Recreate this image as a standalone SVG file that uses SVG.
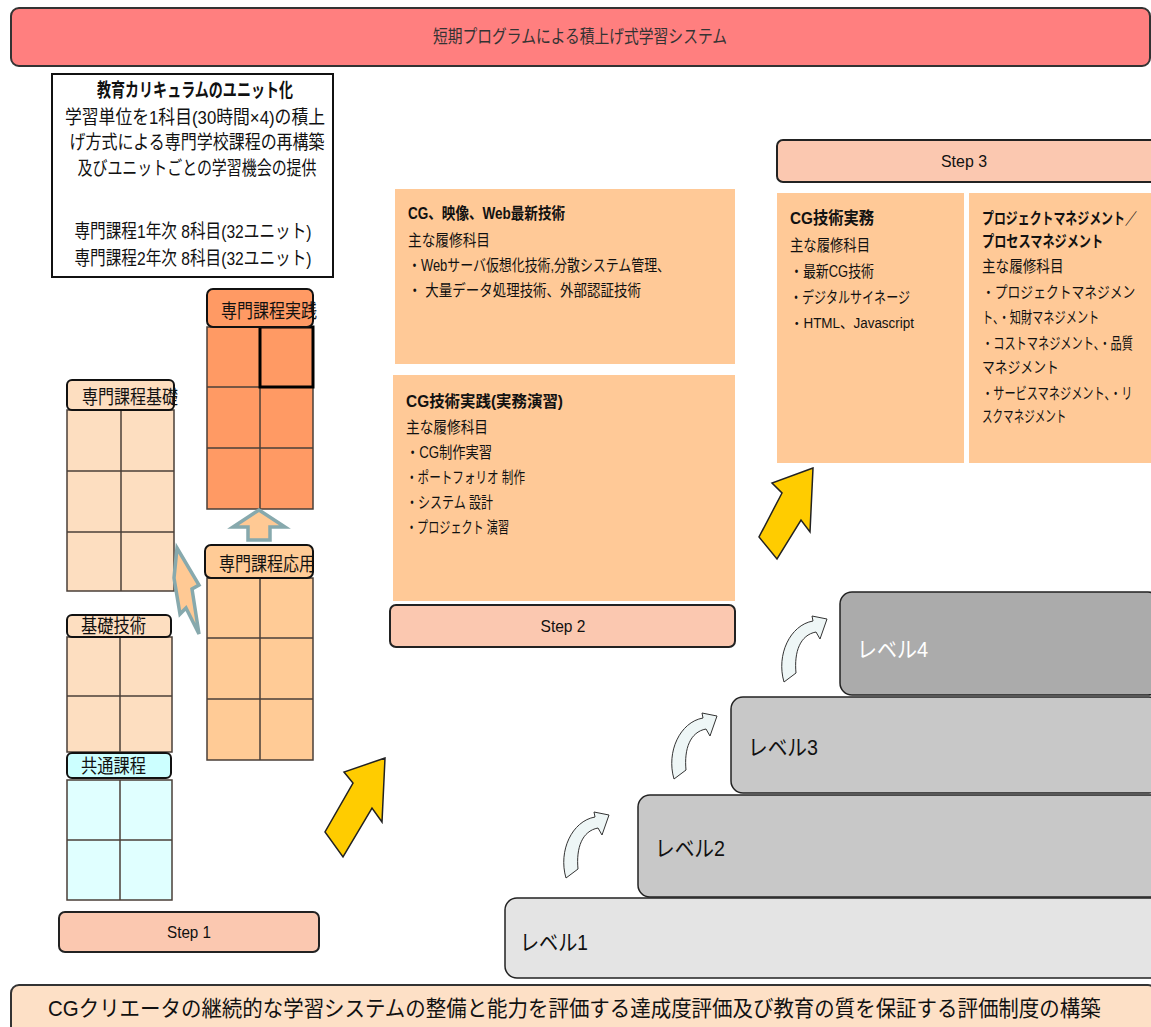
<svg xmlns="http://www.w3.org/2000/svg" width="1151" height="1027" viewBox="0 0 1151 1027">
<style>
text{font-family:"Liberation Sans","Noto Sans CJK JP",sans-serif;fill:#111;dominant-baseline:central}
.b{font-weight:bold}
.hdr{stroke:#111;stroke-width:2}
.grid{stroke:#4a3f38;stroke-width:1.5}
.step{fill:#FBC8B0;stroke:#222;stroke-width:2}
.box{fill:#FFC997}
.lvl{stroke:#222;stroke-width:1.5}
.yarr{fill:#FFCC00;stroke:#222;stroke-width:1.5}
.carr{fill:#EEF6F6;stroke:#333;stroke-width:1}
.barr{fill:#FFC994;stroke:#87A9AD;stroke-width:3.5;stroke-linejoin:miter}
</style>
<defs>
<path id="curv" d="M2,65 C-6,38 8,8 31,4 L30,-1 L45,2 L38,22 L34,15 C18,18 12,35 14,56 Z"/>
</defs>

<g id="title">
<rect x="11" y="8" width="1139" height="58" rx="8" fill="#FF7F7F" stroke="#333" stroke-width="2"/>
<text x="580" y="37" font-size="18" text-anchor="middle" textLength="294" lengthAdjust="spacingAndGlyphs" style="fill:#333">短期プログラムによる積上げ式学習システム</text>
</g>

<g id="unit-box">
<rect x="52" y="74" width="281" height="203" fill="#fff" stroke="#111" stroke-width="2"/>
<text x="195" y="90" font-size="19" class="b" text-anchor="middle" textLength="196" lengthAdjust="spacingAndGlyphs">教育カリキュラムのユニット化</text>
<text x="195" y="117" font-size="19" text-anchor="middle" textLength="260" lengthAdjust="spacingAndGlyphs">学習単位を1科目(30時間×4)の積上</text>
<text x="197" y="142" font-size="19" text-anchor="middle" textLength="255" lengthAdjust="spacingAndGlyphs">げ方式による専門学校課程の再構築</text>
<text x="197" y="168" font-size="19" text-anchor="middle" textLength="239" lengthAdjust="spacingAndGlyphs">及びユニットごとの学習機会の提供</text>
<text x="193" y="231" font-size="19" text-anchor="middle" textLength="237" lengthAdjust="spacingAndGlyphs">専門課程1年次  8科目(32ユニット)</text>
<text x="193" y="258" font-size="19" text-anchor="middle" textLength="237" lengthAdjust="spacingAndGlyphs">専門課程2年次  8科目(32ユニット)</text>
</g>

<g id="jissen">
<rect x="207" y="327" width="106" height="182" fill="#FF9A64" class="grid"/>
<line x1="260" y1="327" x2="260" y2="509" class="grid"/>
<line x1="207" y1="387" x2="313" y2="387" class="grid"/>
<line x1="207" y1="448" x2="313" y2="448" class="grid"/>
<rect x="260" y="327" width="53" height="60" fill="none" stroke="#000" stroke-width="3"/>
<rect x="207" y="289" width="106" height="38" rx="6" fill="#FF9A64" class="hdr"/>
<text x="221" y="311" font-size="19" textLength="96" lengthAdjust="spacingAndGlyphs">専門課程実践</text>
</g>

<g id="kiso">
<rect x="67" y="410" width="107" height="181" fill="#FDDEC0" class="grid"/>
<line x1="121" y1="410" x2="121" y2="591" class="grid"/>
<line x1="67" y1="471" x2="174" y2="471" class="grid"/>
<line x1="67" y1="532" x2="174" y2="532" class="grid"/>
<rect x="67" y="380" width="107" height="30" rx="5" fill="#FDDEC0" class="hdr"/>
<text x="82" y="397" font-size="19" textLength="96" lengthAdjust="spacingAndGlyphs">専門課程基礎</text>
</g>

<g id="ouyou">
<rect x="207" y="578" width="106" height="182" fill="#FFCB96" class="grid"/>
<line x1="260" y1="578" x2="260" y2="760" class="grid"/>
<line x1="207" y1="638" x2="313" y2="638" class="grid"/>
<line x1="207" y1="699" x2="313" y2="699" class="grid"/>
<rect x="205" y="545" width="108" height="33" rx="6" fill="#FFCB96" class="hdr"/>
<text x="219" y="564" font-size="19" textLength="96" lengthAdjust="spacingAndGlyphs">専門課程応用</text>
</g>

<g id="kisogijutsu">
<rect x="67" y="637" width="105" height="115" fill="#FDDEC0" class="grid"/>
<line x1="120" y1="637" x2="120" y2="752" class="grid"/>
<line x1="67" y1="696" x2="172" y2="696" class="grid"/>
<rect x="67" y="615" width="104" height="22" rx="5" fill="#FDDEC0" class="hdr"/>
<text x="81" y="626" font-size="19" textLength="65" lengthAdjust="spacingAndGlyphs">基礎技術</text>
</g>

<g id="kyoutsu">
<rect x="67" y="780" width="105" height="120" fill="#E0FFFF" class="grid"/>
<line x1="120" y1="780" x2="120" y2="900" class="grid"/>
<line x1="67" y1="840" x2="172" y2="840" class="grid"/>
<rect x="67" y="753" width="104" height="25" rx="5" fill="#CCFFFF" class="hdr"/>
<text x="81" y="766" font-size="19" textLength="65" lengthAdjust="spacingAndGlyphs">共通課程</text>
</g>

<g id="step1">
<rect x="59" y="912" width="260" height="40" rx="6" class="step"/>
<text x="189" y="932" font-size="17" text-anchor="middle" textLength="44" lengthAdjust="spacingAndGlyphs">Step 1</text>
</g>

<g id="box-web">
<rect x="395" y="189" width="340" height="175" class="box"/>
<text x="408" y="213" font-size="16" class="b" textLength="157" lengthAdjust="spacingAndGlyphs">CG、映像、Web最新技術</text>
<text x="408" y="240" font-size="16" textLength="82" lengthAdjust="spacingAndGlyphs">主な履修科目</text>
<text x="408" y="265" font-size="16" textLength="262" lengthAdjust="spacingAndGlyphs">・Webサーバ仮想化技術,分散システム管理、</text>
<text x="408" y="290" font-size="16" textLength="233" lengthAdjust="spacingAndGlyphs">・ 大量データ処理技術、外部認証技術</text>
</g>

<g id="box-cgjissen">
<rect x="393" y="375" width="342" height="226" class="box"/>
<text x="406" y="401" font-size="16" class="b" textLength="157" lengthAdjust="spacingAndGlyphs">CG技術実践(実務演習)</text>
<text x="406" y="427" font-size="16" textLength="82" lengthAdjust="spacingAndGlyphs">主な履修科目</text>
<text x="406" y="452" font-size="16" textLength="86" lengthAdjust="spacingAndGlyphs">・CG制作実習</text>
<text x="406" y="477" font-size="16" textLength="119" lengthAdjust="spacingAndGlyphs">・ポートフォリオ 制作</text>
<text x="406" y="502" font-size="16" textLength="87" lengthAdjust="spacingAndGlyphs">・システム 設計</text>
<text x="406" y="527" font-size="16" textLength="103" lengthAdjust="spacingAndGlyphs">・プロジェクト 演習</text>
</g>

<g id="step2">
<rect x="390" y="605" width="345" height="42" rx="6" class="step"/>
<text x="563" y="626" font-size="17" text-anchor="middle" textLength="45" lengthAdjust="spacingAndGlyphs">Step 2</text>
</g>

<g id="step3">
<rect x="777" y="140" width="380" height="42" rx="6" class="step"/>
<text x="964" y="161" font-size="17" text-anchor="middle" textLength="46" lengthAdjust="spacingAndGlyphs">Step 3</text>
</g>

<g id="box-cgjitsumu">
<rect x="777" y="193" width="187" height="270" class="box"/>
<text x="790" y="218" font-size="17" class="b" textLength="84" lengthAdjust="spacingAndGlyphs">CG技術実務</text>
<text x="790" y="245" font-size="16" textLength="80" lengthAdjust="spacingAndGlyphs">主な履修科目</text>
<text x="790" y="271" font-size="16" textLength="84" lengthAdjust="spacingAndGlyphs">・最新CG技術</text>
<text x="790" y="297" font-size="16" textLength="120" lengthAdjust="spacingAndGlyphs">・デジタルサイネージ</text>
<text x="790" y="323" font-size="14" textLength="124" lengthAdjust="spacingAndGlyphs">・HTML、Javascript</text>
</g>

<g id="box-pm">
<rect x="969" y="193" width="182" height="270" class="box"/>
<text transform="translate(982,218) scale(0.745,1)" font-size="16" class="b">プロジェクトマネジメント／</text>
<text transform="translate(982,241) scale(0.76,1)" font-size="16" class="b">プロセスマネジメント</text>
<text transform="translate(982,267) scale(0.85,1)" font-size="16">主な履修科目</text>
<text transform="translate(982,292) scale(0.8,1)" font-size="16">・プロジェクトマネジメン</text>
<text transform="translate(982,317) scale(0.7,1)" font-size="16">ト、・知財マネジメント</text>
<text transform="translate(982,343) scale(0.7,1)" font-size="16">・コストマネジメント、・品質</text>
<text transform="translate(982,367) scale(0.8,1)" font-size="16">マネジメント</text>
<text transform="translate(982,393) scale(0.7,1)" font-size="16">・サービスマネジメント、・リ</text>
<text transform="translate(982,417) scale(0.66,1)" font-size="16">スクマネジメント</text>
</g>

<g id="level1">
<rect x="505" y="898" width="660" height="80" rx="12" fill="#E4E4E4" class="lvl"/>
<text x="520" y="942" font-size="22" textLength="68" lengthAdjust="spacingAndGlyphs">レベル1</text>
</g>
<g id="level2">
<rect x="638" y="795" width="530" height="102" rx="12" fill="#C8C8C8" class="lvl"/>
<text x="655" y="848" font-size="22" textLength="70" lengthAdjust="spacingAndGlyphs">レベル2</text>
</g>
<g id="level3">
<rect x="731" y="697" width="430" height="96" rx="12" fill="#C8C8C8" class="lvl"/>
<text x="748" y="747" font-size="22" textLength="70" lengthAdjust="spacingAndGlyphs">レベル3</text>
</g>
<g id="level4">
<rect x="840" y="592" width="320" height="103" rx="12" fill="#ABABAB" class="lvl"/>
<text x="857" y="649" font-size="22" textLength="71" lengthAdjust="spacingAndGlyphs" style="fill:#fff">レベル4</text>
</g>

<g id="bottom-bar">
<rect x="11" y="985" width="1145" height="60" rx="8" fill="#FDE0C6" stroke="#333" stroke-width="2"/>
<text transform="translate(48,1009) scale(0.93,1)" font-size="22">CGクリエータの継続的な学習システムの整備と能力を評価する達成度評価及び教育の質を保証する評価制度の構築</text>
</g>

<g id="connectors">
<polygon class="barr" points="259,510 233,527 248,527 248,540 270,540 270,527 285,527"/>
<polygon class="barr" points="177,548 199,585 192,589 199,634 186,608 180,614 174,578"/>
<polygon class="yarr" points="385,758 344,772 353,783 325,832 343,857 372,808 382,822"/>
<polygon class="yarr" points="813,468 772,483 782,493 759,537 777,559 801,520 810,532"/>
<use href="#curv" class="carr" transform="translate(564,813)"/>
<use href="#curv" class="carr" transform="translate(672,714)"/>
<use href="#curv" class="carr" transform="translate(782,617)"/>
</g>
</svg>
